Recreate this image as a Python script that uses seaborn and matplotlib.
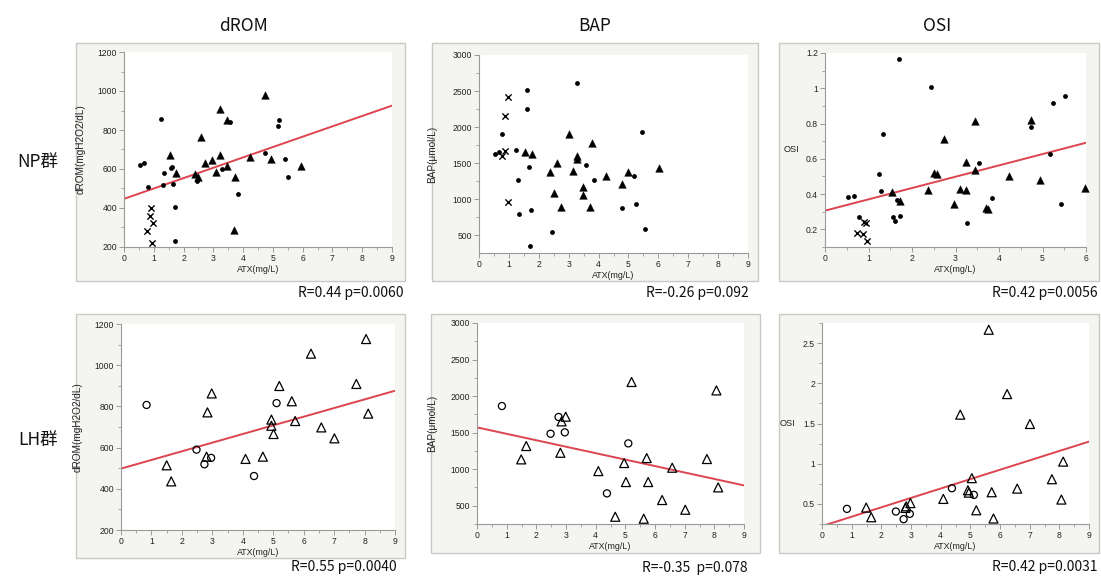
import numpy as np
import pandas as pd
import matplotlib
matplotlib.use("Agg")
import matplotlib.pyplot as plt
import seaborn as sns
from matplotlib.patches import Rectangle
from matplotlib.ticker import MultipleLocator, FuncFormatter

# ---------------- data ----------------
col_titles = ["dROM", "BAP", "OSI"]
row_labels = ["NP群", "LH群"]
x_label = "ATX(mg/L)"
y_labels = ["dROM(mgH2O2/dL)", "BAP(μmol/L)", "OSI"]
stats_text = [["R=0.44 p=0.0060", "R=-0.26 p=0.092", "R=0.42 p=0.0056"],
              ["R=0.55 p=0.0040", "R=-0.35  p=0.078", "R=0.42 p=0.0031"]]

# NP group, dROM
np_drom_circ_x = [0.53, 0.68, 0.79, 1.23, 1.30, 1.34, 1.57, 1.62, 1.65, 1.71, 1.72, 2.44, 3.28, 3.55, 3.83, 4.74, 5.16, 5.22, 5.40, 5.51]
np_drom_circ_y = [620, 632, 508, 855, 520, 581, 607, 612, 525, 405, 232, 538, 602, 843, 470, 682, 820, 853, 653, 557]
np_drom_tri_x = [1.54, 1.74, 2.38, 2.50, 2.58, 2.73, 2.96, 3.10, 3.23, 3.23, 3.45, 3.45, 3.68, 3.74, 4.22, 4.74, 4.94, 5.96]
np_drom_tri_y = [673, 581, 573, 557, 766, 629, 644, 586, 908, 672, 851, 615, 285, 559, 663, 980, 651, 615]
np_drom_x_x = [0.90, 0.88, 0.97, 0.76, 0.95]
np_drom_x_y = [402, 361, 323, 282, 222]
np_drom_fit_x = [0, 9]
np_drom_fit_y = [447, 925]

# NP group, BAP
np_bap_circ_x = [0.53, 0.67, 0.78, 1.25, 1.31, 1.34, 1.59, 1.61, 1.66, 1.71, 1.73, 2.44, 3.29, 3.57, 3.86, 4.77, 5.20, 5.26, 5.44, 5.54]
np_bap_circ_y = [1630, 1649, 1907, 1685, 1261, 795, 2253, 2511, 1450, 357, 846, 542, 2617, 1473, 1270, 883, 1326, 938, 1930, 592]
np_bap_tri_x = [1.53, 1.76, 2.38, 2.52, 2.60, 2.75, 3.00, 3.13, 3.27, 3.27, 3.48, 3.48, 3.70, 3.77, 4.25, 4.78, 4.97, 6.01]
np_bap_tri_y = [1653, 1621, 1372, 1086, 1506, 892, 1902, 1386, 1598, 1561, 1164, 1054, 887, 1782, 1326, 1206, 1372, 1427]
np_bap_x_x = [0.96, 0.87, 0.88, 0.76, 0.96]
np_bap_x_y = [2423, 2151, 1676, 1602, 961]

# NP group, OSI
np_osi_circ_x = [0.52, 0.67, 0.78, 1.24, 1.29, 1.33, 1.57, 1.61, 1.66, 1.70, 1.72, 2.43, 3.27, 3.55, 3.84, 4.74, 5.18, 5.23, 5.42, 5.52]
np_osi_circ_y = [0.385, 0.387, 0.268, 0.512, 0.417, 0.743, 0.272, 0.245, 0.366, 1.164, 0.276, 1.009, 0.234, 0.576, 0.376, 0.780, 0.625, 0.918, 0.342, 0.958]
np_osi_tri_x = [1.53, 1.73, 2.36, 2.50, 2.58, 2.74, 2.97, 3.10, 3.24, 3.24, 3.45, 3.45, 3.69, 3.75, 4.23, 4.74, 4.94, 5.98]
np_osi_tri_y = [0.410, 0.361, 0.421, 0.518, 0.514, 0.710, 0.342, 0.429, 0.584, 0.425, 0.812, 0.536, 0.319, 0.317, 0.504, 0.822, 0.480, 0.433]
np_osi_x_x = [0.74, 0.88, 0.89, 0.96, 0.95]
np_osi_x_y = [0.179, 0.172, 0.243, 0.136, 0.238]
np_osi_fit_x = [0, 6]
np_osi_fit_y = [0.306, 0.691]

# LH group, dROM
lh_drom_circ_x = [0.84, 2.48, 2.74, 2.96, 4.37, 5.11]
lh_drom_circ_y = [807, 590, 519, 550, 462, 816]
lh_drom_tri_x = [1.50, 1.65, 2.81, 2.84, 2.98, 4.09, 4.66, 4.94, 4.94, 5.01, 5.20, 5.61, 5.72, 6.24, 6.58, 7.01, 7.73, 8.05, 8.12]
lh_drom_tri_y = [514, 436, 556, 771, 863, 545, 556, 736, 706, 666, 899, 825, 729, 1056, 698, 645, 909, 1127, 765]
lh_drom_fit_x = [0, 9]
lh_drom_fit_y = [498, 876]

# LH group, BAP
lh_bap_circ_x = [0.84, 2.48, 2.75, 2.96, 4.38, 5.10]
lh_bap_circ_y = [1864, 1485, 1714, 1504, 669, 1353]
lh_bap_tri_x = [1.49, 1.66, 2.81, 2.85, 2.99, 4.09, 4.66, 4.96, 5.02, 5.21, 5.62, 5.72, 5.77, 6.24, 6.58, 7.02, 7.75, 8.07, 8.13]
lh_bap_tri_y = [1134, 1317, 1225, 1654, 1718, 974, 349, 1084, 824, 2193, 322, 1152, 824, 578, 1020, 445, 1139, 2078, 751]
lh_bap_fit_x = [0, 9]
lh_bap_fit_y = [1572, 778]

# LH group, OSI
lh_osi_circ_x = [0.84, 2.49, 2.75, 2.96, 4.38, 5.12]
lh_osi_circ_y = [0.438, 0.405, 0.310, 0.376, 0.695, 0.612]
lh_osi_tri_x = [1.49, 1.66, 2.81, 2.84, 2.98, 4.09, 4.66, 4.92, 4.95, 5.05, 5.20, 5.62, 5.72, 5.78, 6.24, 6.58, 7.01, 7.75, 8.07, 8.13]
lh_osi_tri_y = [0.454, 0.334, 0.45, 0.47, 0.51, 0.562, 1.610, 0.67, 0.64, 0.82, 0.421, 2.666, 0.645, 0.318, 1.866, 0.690, 1.494, 0.807, 0.554, 1.026]
lh_osi_fit_x = [0, 9]
lh_osi_fit_y = [0.224, 1.275]

# ---------------- style ----------------
sns.set_style("white")
plt.rcParams["font.family"] = ["Liberation Sans", "DejaVu Sans"]
JP = ["Noto Sans CJK JP", "DejaVu Sans"]

W, H = 1101, 577
fig = plt.figure(figsize=(W / 100, H / 100), dpi=100)
fig.patch.set_facecolor("white")

def px_rect(x0, y0, x1, y1):
    return [x0 / W, 1 - y1 / H, (x1 - x0) / W, (y1 - y0) / H]

boxes = [[(76, 43, 405, 281), (432, 43, 758, 281), (779, 43, 1099, 281)],
         [(76, 314, 405, 558), (431, 314, 760, 553), (779, 314, 1099, 553)]]
axes_px = [[(124, 52, 392, 247), (479, 55, 748, 253), (825, 53, 1086, 247)],
           [(121, 324, 395, 530), (477, 323, 744, 524), (822, 323, 1089, 524)]]
xlims = [[(0, 9), (0, 9), (0, 6)], [(0, 9), (0, 9), (0, 9)]]
ylims = [[(200, 1200), (255, 3000), (0.1, 1.2)], [(200, 1200), (250, 3000), (0.25, 2.75)]]
ymaj = [[200, 500, 0.2], [200, 500, 0.5]]
ylab_x = [[-0.145, -0.155, None], [-0.14, -0.15, None]]

red = "#dc4450"
fmt = FuncFormatter(lambda v, p: f"{v:g}")

for r in range(2):
    for c in range(3):
        bx = boxes[r][c]
        fig.add_artist(Rectangle((bx[0] / W, 1 - bx[3] / H), (bx[2] - bx[0]) / W, (bx[3] - bx[1]) / H,
                                 transform=fig.transFigure, facecolor="#f4f4f0",
                                 edgecolor="#c9c9c6", lw=1.0, zorder=0))

panels = {
    (0, 0): dict(circ=(np_drom_circ_x, np_drom_circ_y), tri=(np_drom_tri_x, np_drom_tri_y),
                 xs=(np_drom_x_x, np_drom_x_y), fit=(np_drom_fit_x, np_drom_fit_y)),
    (0, 1): dict(circ=(np_bap_circ_x, np_bap_circ_y), tri=(np_bap_tri_x, np_bap_tri_y),
                 xs=(np_bap_x_x, np_bap_x_y), fit=None),
    (0, 2): dict(circ=(np_osi_circ_x, np_osi_circ_y), tri=(np_osi_tri_x, np_osi_tri_y),
                 xs=(np_osi_x_x, np_osi_x_y), fit=(np_osi_fit_x, np_osi_fit_y)),
    (1, 0): dict(circ=(lh_drom_circ_x, lh_drom_circ_y), tri=(lh_drom_tri_x, lh_drom_tri_y),
                 xs=None, fit=(lh_drom_fit_x, lh_drom_fit_y)),
    (1, 1): dict(circ=(lh_bap_circ_x, lh_bap_circ_y), tri=(lh_bap_tri_x, lh_bap_tri_y),
                 xs=None, fit=(lh_bap_fit_x, lh_bap_fit_y)),
    (1, 2): dict(circ=(lh_osi_circ_x, lh_osi_circ_y), tri=(lh_osi_tri_x, lh_osi_tri_y),
                 xs=None, fit=(lh_osi_fit_x, lh_osi_fit_y)),
}

for (r, c), d in panels.items():
    ax = fig.add_axes(px_rect(*axes_px[r][c]))
    ax.set_facecolor("white")
    ax.set_zorder(2)
    if d["fit"] is not None:
        sns.lineplot(x=d["fit"][0], y=d["fit"][1], ax=ax, color=red, lw=1.4, zorder=1)
    if r == 0:
        sns.scatterplot(x=d["circ"][0], y=d["circ"][1], ax=ax, marker="o", s=12,
                        color="black", edgecolor="black", linewidth=0, zorder=3, clip_on=False)
        sns.scatterplot(x=d["tri"][0], y=d["tri"][1], ax=ax, marker="^", s=30,
                        color="black", edgecolor="black", linewidth=0.3, zorder=3, clip_on=False)
        sns.scatterplot(x=d["xs"][0], y=d["xs"][1], ax=ax, marker="x", s=20,
                        color="black", linewidth=1.0, zorder=3, clip_on=False)
    else:
        sns.scatterplot(x=d["circ"][0], y=d["circ"][1], ax=ax, marker="o", s=26,
                        facecolor="none", edgecolor="black", linewidth=0.9, zorder=3, clip_on=False)
        sns.scatterplot(x=d["tri"][0], y=d["tri"][1], ax=ax, marker="^", s=42,
                        facecolor="none", edgecolor="black", linewidth=0.9, zorder=3, clip_on=False)
        for coll in ax.collections:
            coll.set_facecolor("none")
            coll.set_edgecolor("black")
    ax.set_xlim(*xlims[r][c])
    ax.set_ylim(*ylims[r][c])
    ax.xaxis.set_major_locator(MultipleLocator(1))
    ax.xaxis.set_minor_locator(MultipleLocator(0.5))
    ax.yaxis.set_major_locator(MultipleLocator(ymaj[r][c]))
    ax.yaxis.set_minor_locator(MultipleLocator(ymaj[r][c] / 2))
    ax.yaxis.set_major_formatter(fmt)
    ax.xaxis.set_major_formatter(fmt)
    for s in ["top", "right"]:
        ax.spines[s].set_visible(False)
    for s in ["left", "bottom"]:
        ax.spines[s].set_color("#9a9a9a")
        ax.spines[s].set_linewidth(0.8)
    ax.tick_params(which="major", direction="out", length=3.5, width=0.7, color="#9a9a9a",
                   labelsize=6.2, labelcolor="#222222", pad=1.5, left=True, bottom=True)
    ax.tick_params(which="minor", direction="out", length=2, width=0.6, color="#9a9a9a",
                   left=True, bottom=True)
    ax.set_xlabel(x_label, fontsize=6.4, color="#222222", labelpad=1.5)
    if c < 2:
        ax.set_ylabel(y_labels[c], fontsize=7.2, color="#222222")
        ax.yaxis.set_label_coords(ylab_x[r][c], 0.5)
    else:
        ax.set_ylabel(y_labels[c], fontsize=6.6, color="#222222", rotation=0, ha="center", va="center")
        ax.yaxis.set_label_coords(-0.13, 0.5)

# column titles
for c, (t, xc) in enumerate(zip(col_titles, [243, 595, 937])):
    fig.text(xc / W, 1 - 26 / H, t, ha="center", va="center", fontsize=12.5, family=JP, color="#111111")
# row labels
for r, (t, yc) in enumerate(zip(row_labels, [162, 440])):
    fig.text(38 / W, 1 - yc / H, t, ha="center", va="center", fontsize=12.5, family=JP, color="#111111")
# stats
stat_pos = [[(404, 293), (749, 293), (1098, 293)], [(397, 567), (748, 568), (1098, 567)]]
for r in range(2):
    for c in range(3):
        xr, yc = stat_pos[r][c]
        fig.text(xr / W, 1 - yc / H, stats_text[r][c], ha="right", va="center",
                 fontsize=10, family=JP, color="#111111")

fig.savefig("out.png", dpi=100)
